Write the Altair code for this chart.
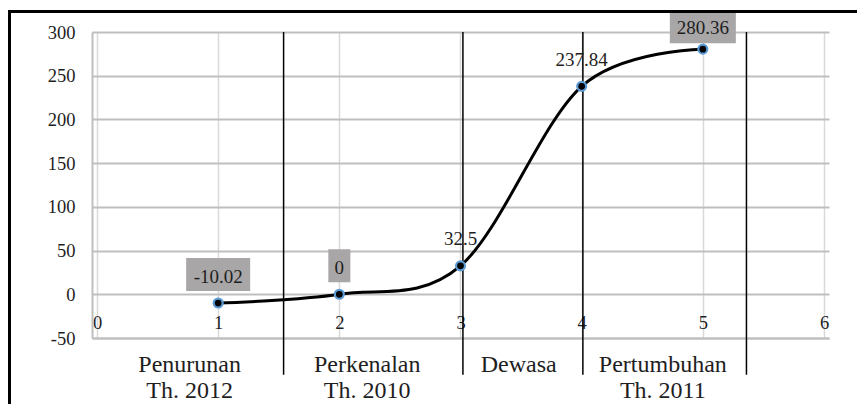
import altair as alt
import pandas as pd

# ---- data ----
x_vals = [1, 2, 3, 4, 5]
y_vals = [-10.02, 0, 32.5, 237.84, 280.36]
point_labels = ["-10.02", "0", "32.5", "237.84", "280.36"]
boxed_labels = ["-10.02", "0", "280.36"]

sep_x = [1.54, 3.02, 4.01, 5.36]
cat_names = ["Penurunan", "Perkenalan", "Dewasa", "Pertumbuhan"]
cat_years = ["Th. 2012", "Th. 2010", "", "Th. 2011"]
cat_x = [0.765, 2.23, 3.48, 4.67]

x_ticks = [0, 1, 2, 3, 4, 5, 6]
y_ticks = [-50, 0, 50, 100, 150, 200, 250, 300]

# ---- styles ----
FONT = "Liberation Serif"
TXT = "#1e1e1e"
BOX = "#a8a6a6"
box_width_px = {"-10.02": 64, "0": 22, "280.36": 66}
box_offsets = {"-10.02": (-45, -12), "0": (-45, -12), "280.36": (-37, -6)}

pts = pd.DataFrame({"x": x_vals, "y": y_vals, "label": point_labels})
seps = pd.DataFrame({"x": sep_x})
cats = pd.DataFrame({"x": cat_x, "name": cat_names, "year": cat_years})

xs = alt.Scale(domain=[0, 6], nice=False, zero=False)
ys = alt.Scale(domain=[-50, 300], nice=False, zero=False)

x_axis = alt.Axis(values=x_ticks, labelExpr="'' + datum.value", title=None, grid=True,
                  gridColor="#d9d9d9", gridWidth=1.5, domain=True,
                  domainColor="#bfbfbf", domainWidth=2, ticks=False, tickSize=0,
                  labelPadding=-16, labelBaseline="middle", labelFlush=False,
                  labelFont=FONT, labelFontSize=18.5, labelColor=TXT)
y_axis = alt.Axis(values=y_ticks, labelExpr="'' + datum.value", title=None, grid=True,
                  gridColor="#bfbfbf", gridWidth=2, domain=True,
                  domainColor="#bfbfbf", domainWidth=2, ticks=False, tickSize=0,
                  labelPadding=17, labelFlush=False,
                  labelFont=FONT, labelFontSize=18.5, labelColor=TXT)

X = alt.X("x:Q", scale=xs, axis=x_axis, title=None)
Y = alt.Y("y:Q", scale=ys, axis=y_axis, title=None)

base = alt.Chart(pts)

separators = alt.Chart(seps).mark_rule(color="black", strokeWidth=1.5).encode(
    x=X,
    y=alt.YDatum(300, scale=ys, axis=y_axis, title=None),
    y2=alt.Y2Datum(-92),
)

line = base.mark_line(interpolate="cardinal", color="black", strokeWidth=3).encode(x=X, y=Y)

points = base.mark_circle(fill="black", stroke="#5b9bd5", strokeWidth=2.2,
                          size=80, opacity=1).encode(x=X, y=Y)

boxes = []
for lab in boxed_labels:
    t, b = box_offsets[lab]
    boxes.append(
        base.transform_filter(alt.datum.label == lab)
        .mark_bar(width=box_width_px[lab], color=BOX, yOffset=t, y2Offset=b)
        .encode(x=X, y=Y, y2=alt.Y2("y"))
    )

labels_main = base.transform_filter(alt.datum.label != "280.36").mark_text(
    font=FONT, fontSize=19, color=TXT, baseline="middle", dy=-26.5
).encode(x=X, y=Y, text="label:N")

labels_top = base.transform_filter(alt.datum.label == "280.36").mark_text(
    font=FONT, fontSize=19, color=TXT, baseline="middle", dy=-21.5
).encode(x=X, y=Y, text="label:N")

cat1 = alt.Chart(cats).mark_text(font=FONT, fontSize=24, color=TXT, baseline="middle").encode(
    x=X, y=alt.value(333), text="name:N")
cat2 = alt.Chart(cats).mark_text(font=FONT, fontSize=24, color=TXT, baseline="middle").encode(
    x=X, y=alt.value(359), text="year:N")

frame_top = alt.Chart(pts).mark_rule(color="black", strokeWidth=3).encode(
    x=alt.value(-84), x2=alt.value(765), y=alt.value(-20.5))
frame_left = alt.Chart(pts).mark_rule(color="black", strokeWidth=3).encode(
    x=alt.value(-82.5), y=alt.value(-22), y2=alt.value(380))

chart = alt.layer(
    separators, line, points, *boxes, labels_main, labels_top, cat1, cat2,
    frame_top, frame_left
).properties(
    width=737, height=306,
    padding={"left": 84, "top": 24, "right": 28, "bottom": 66},
    autosize=alt.AutoSizeParams(type="none"),
    background="white",
).configure_view(stroke=None)

chart.save("out.html", embed_options={"renderer": "svg", "actions": False})
